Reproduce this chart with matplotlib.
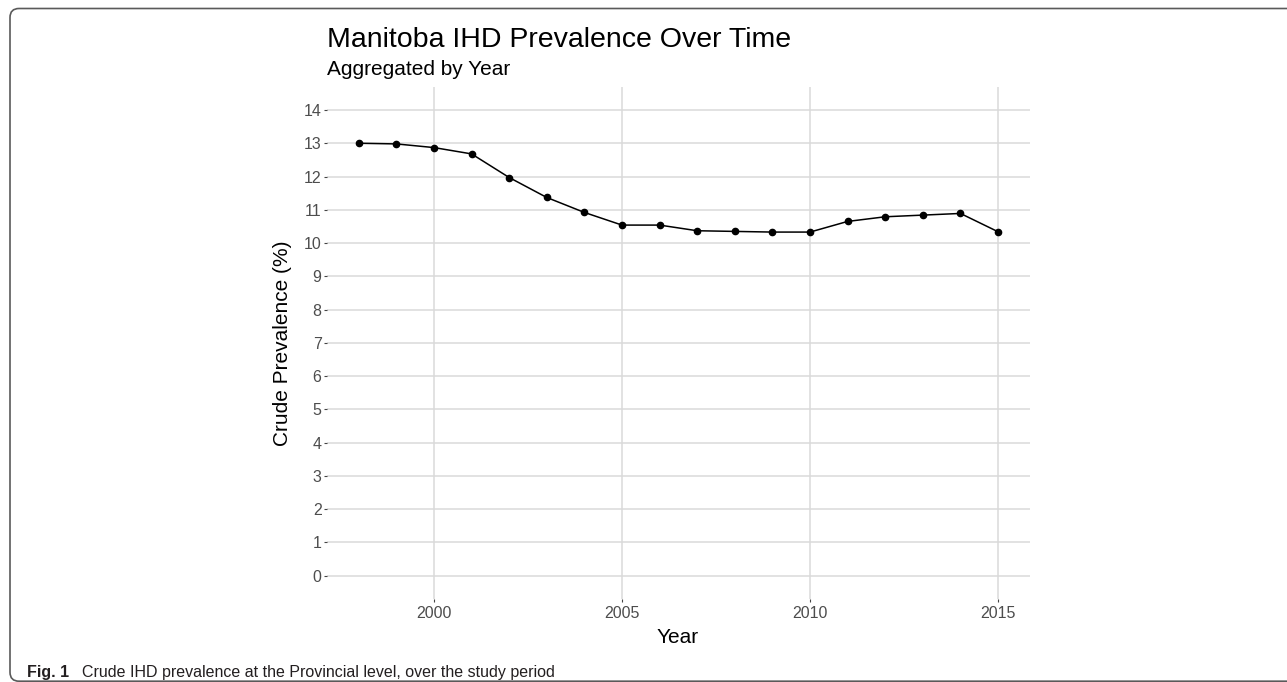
import matplotlib
matplotlib.use("Agg")
import matplotlib.pyplot as plt
from matplotlib.patches import FancyBboxPatch
from matplotlib.transforms import IdentityTransform

years = [1998, 1999, 2000, 2001, 2002, 2003, 2004, 2005, 2006, 2007,
         2008, 2009, 2010, 2011, 2012, 2013, 2014, 2015]
prevalence = [13.00, 12.98, 12.87, 12.68, 11.97, 11.37, 10.92, 10.54, 10.54, 10.37,
              10.35, 10.33, 10.33, 10.65, 10.79, 10.84, 10.89, 10.34]
x_ticks = [2000, 2005, 2010, 2015]
y_ticks = list(range(0, 15))

title = "Manitoba IHD Prevalence Over Time"
subtitle = "Aggregated by Year"
x_label = "Year"
y_label = "Crude Prevalence (%)"
caption_bold = "Fig. 1"
caption_text = "Crude IHD prevalence at the Provincial level, over the study period"

W, H = 1287, 682
DPI = 100
fig = plt.figure(figsize=(W / DPI, H / DPI), dpi=DPI)
fig.patch.set_facecolor("white")

FONT = ["Liberation Sans", "DejaVu Sans"]
CAP_FONT = ["Liberation Sans", "DejaVu Sans"]
CAP_SIZE = 11.5

# panel in pixel coordinates
px_l, px_r, px_t, px_b = 326.8, 1030.0, 86.7, 599.0
ax = fig.add_axes([px_l / W, 1 - px_b / H, (px_r - px_l) / W, (px_b - px_t) / H])

ax.plot(years, prevalence, color="black", linewidth=1.1, marker="o",
        markersize=4.5, markerfacecolor="black", markeredgecolor="black", zorder=3)

ax.set_xlim(1997.15, 2015.85)
ax.set_ylim(-0.7, 14.7)
ax.set_xticks(x_ticks)
ax.set_yticks(y_ticks)
ax.set_xticklabels([str(t) for t in x_ticks], fontfamily=FONT, fontsize=11.5, color="#4d4d4d")
ax.set_yticklabels([str(t) for t in y_ticks], fontfamily=FONT, fontsize=11.5, color="#4d4d4d")
ax.tick_params(axis="both", length=2.3, width=0.8, color="#444444")
ax.tick_params(axis="y", pad=1.5)
ax.tick_params(axis="x", pad=2.5)
ax.grid(True, color="#dadada", linewidth=1.1)
ax.set_axisbelow(True)
for s in ax.spines.values():
    s.set_visible(False)
ax.set_facecolor("white")

# titles
fig.text(327 / W, 1 - 46.7 / H, title, fontfamily=FONT, fontsize=20.5,
         color="black", ha="left", va="baseline")
fig.text(327 / W, 1 - 75.0 / H, subtitle, fontfamily=FONT, fontsize=15,
         color="black", ha="left", va="baseline")

# axis labels
fig.text(282 / W, 1 - 343.5 / H, y_label, fontfamily=FONT, fontsize=15,
         rotation=90, ha="center", va="center", color="black")
fig.text(678 / W, 1 - 643.3 / H, x_label, fontfamily=FONT, fontsize=15,
         ha="center", va="baseline", color="black")

# caption
t1 = fig.text(27 / W, 1 - 676.7 / H, caption_bold, fontfamily=CAP_FONT, fontsize=CAP_SIZE,
              fontweight="bold", ha="left", va="baseline", color="#231f20")
fig.canvas.draw()
bb = t1.get_window_extent(renderer=fig.canvas.get_renderer())
fig.text((bb.x1 + 13) / W, 1 - 676.7 / H, caption_text, fontfamily=CAP_FONT, fontsize=CAP_SIZE,
         ha="left", va="baseline", color="#231f20")

# frame (rounded, extends beyond right/bottom edges)
frame = FancyBboxPatch((10, 0.8), 1320, H - 8.5 - 0.8,
                       boxstyle="round,pad=0,rounding_size=9",
                       transform=IdentityTransform(), facecolor="none",
                       edgecolor="#5a5a5a", linewidth=1.2)
fig.add_artist(frame)

fig.savefig("out.png", dpi=DPI, facecolor="white")
